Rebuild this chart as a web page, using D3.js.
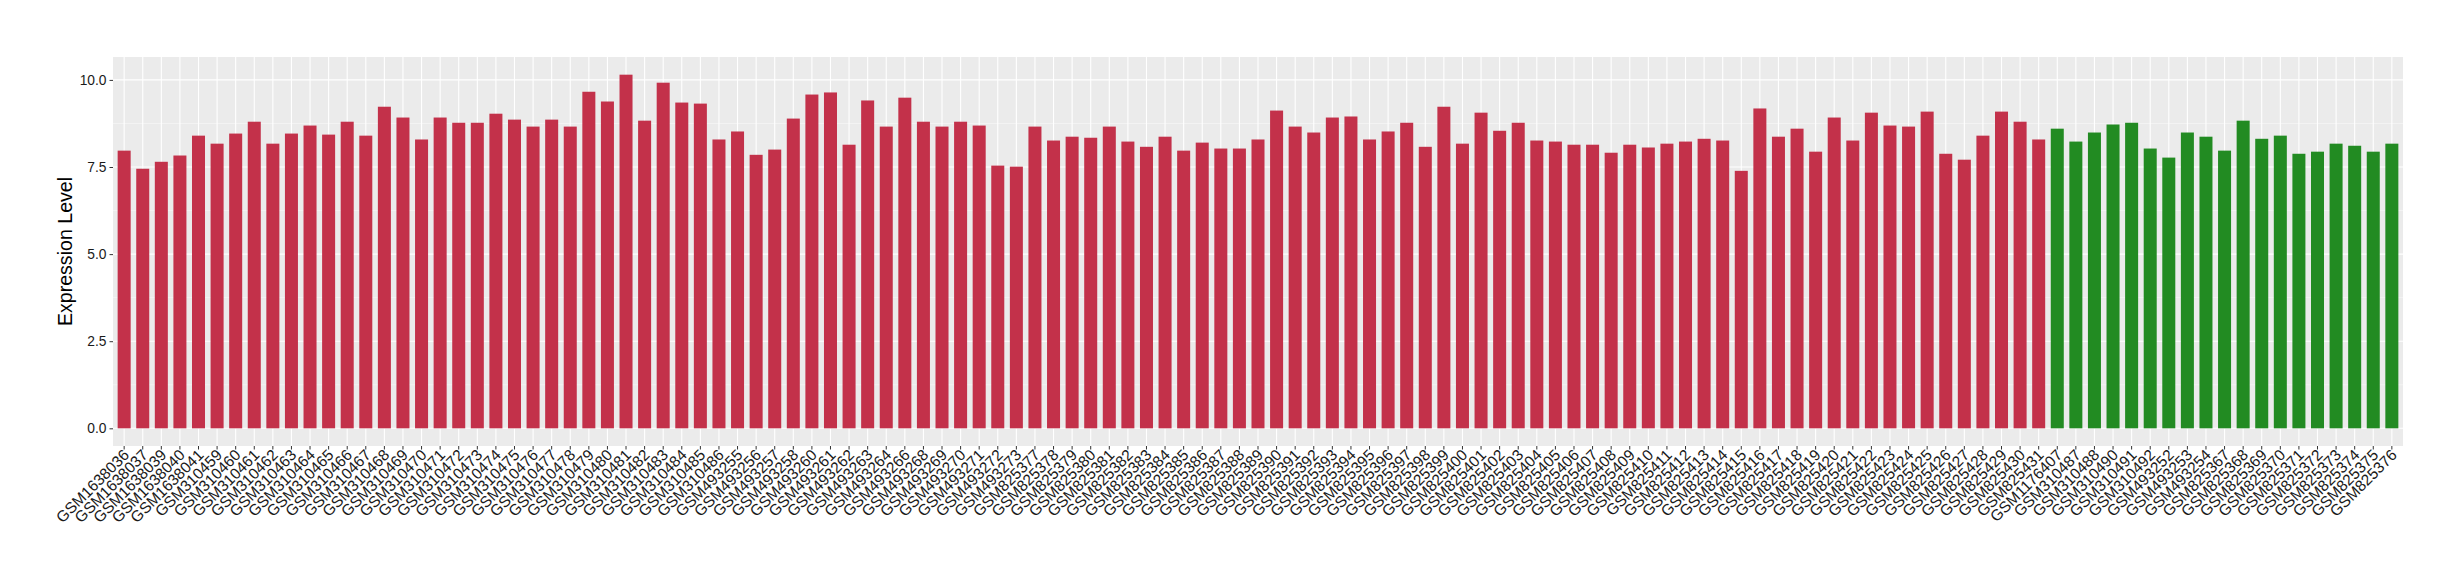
<!DOCTYPE html>
<meta charset="utf-8">
<style>
body { margin: 0; background: #fff; }
.axis text { font-family: "Liberation Sans", Arial, sans-serif; fill: #1a1a1a; }
.axis path { display: none; }
.axis line { stroke: #333; }
</style>
<body>
<script src="https://d3js.org/d3.v7.min.js"></script>
<script>

// group one samples (red bars)
var redSamples = [
  "GSM1638036","GSM1638037","GSM1638039","GSM1638040","GSM1638041",
  "GSM310459","GSM310460","GSM310461","GSM310462","GSM310463","GSM310464","GSM310465",
  "GSM310466","GSM310467","GSM310468","GSM310469","GSM310470","GSM310471","GSM310472",
  "GSM310473","GSM310474","GSM310475","GSM310476","GSM310477","GSM310478","GSM310479",
  "GSM310480","GSM310481","GSM310482","GSM310483","GSM310484","GSM310485","GSM310486",
  "GSM493255","GSM493256","GSM493257","GSM493258","GSM493260","GSM493261","GSM493262",
  "GSM493263","GSM493264","GSM493266","GSM493268","GSM493269","GSM493270","GSM493271",
  "GSM493272","GSM493273",
  "GSM825377","GSM825378","GSM825379","GSM825380","GSM825381","GSM825382","GSM825383",
  "GSM825384","GSM825385","GSM825386","GSM825387","GSM825388","GSM825389","GSM825390",
  "GSM825391","GSM825392","GSM825393","GSM825394","GSM825395","GSM825396","GSM825397",
  "GSM825398","GSM825399","GSM825400","GSM825401","GSM825402","GSM825403","GSM825404",
  "GSM825405","GSM825406","GSM825407","GSM825408","GSM825409","GSM825410","GSM825411",
  "GSM825412","GSM825413","GSM825414","GSM825415","GSM825416","GSM825417","GSM825418",
  "GSM825419","GSM825420","GSM825421","GSM825422","GSM825423","GSM825424","GSM825425",
  "GSM825426","GSM825427","GSM825428","GSM825429","GSM825430","GSM825431"
];
var redValues = [
  7.97, 7.45, 7.65, 7.83, 8.40,
  8.17, 8.46, 8.80, 8.17, 8.46, 8.69, 8.43,
  8.80, 8.40, 9.23, 8.92, 8.29, 8.92, 8.77,
  8.77, 9.03, 8.86, 8.66, 8.86, 8.66, 9.66,
  9.38, 10.15, 8.83, 9.92, 9.35, 9.32, 8.29,
  8.52, 7.85, 8.00, 8.89, 9.58, 9.64, 8.14,
  9.41, 8.66, 9.49, 8.80, 8.66, 8.80, 8.69,
  7.54, 7.51,
  8.66, 8.26, 8.37, 8.34, 8.66, 8.23, 8.08,
  8.37, 7.97, 8.20, 8.03, 8.03, 8.29, 9.12,
  8.66, 8.49, 8.92, 8.95, 8.29, 8.52, 8.77,
  8.08, 9.23, 8.17, 9.06, 8.54, 8.77, 8.26,
  8.23, 8.14, 8.14, 7.91, 8.14, 8.06, 8.17,
  8.23, 8.31, 8.26, 7.39, 9.18, 8.37, 8.60,
  7.94, 8.92, 8.26, 9.06, 8.69, 8.66, 9.09,
  7.88, 7.71, 8.40, 9.09, 8.80, 8.29
];

// group two samples (green bars)
var greenSamples = [
  "GSM1176407","GSM310487","GSM310488","GSM310490","GSM310491","GSM310492",
  "GSM493252","GSM493253","GSM493254",
  "GSM825367","GSM825368","GSM825369","GSM825370","GSM825371","GSM825372",
  "GSM825373","GSM825374","GSM825375","GSM825376"
];
var greenValues = [
  8.60, 8.23, 8.49, 8.72, 8.77, 8.03,
  7.77, 8.49, 8.37,
  7.97, 8.83, 8.31, 8.40, 7.88, 7.94,
  8.17, 8.11, 7.94, 8.17
];

var yTicks = [0, 2.5, 5, 7.5, 10];
var yMinor = [1.25, 3.75, 6.25, 8.75];

// build rows for d3
var data = redSamples.map(function(s, i) { return {sample: s, value: redValues[i], color: "#C3314A"}; })
  .concat(greenSamples.map(function(s, i) { return {sample: s, value: greenValues[i], color: "#228B22"}; }));

var margin = {top: 57, right: 57, bottom: 134, left: 113},
    width = 2460 - margin.left - margin.right,
    height = 580 - margin.top - margin.bottom;

var x = d3.scaleBand()
    .domain(data.map(function(d) { return d.sample; }))
    .range([0, width])
    .paddingInner(0.3)
    .paddingOuter(0.25);

var maxV = d3.max(data, function(d) { return d.value; });
var y = d3.scaleLinear()
    .domain([-0.05 * maxV, maxV * 1.05])
    .range([height, 0]);

var svg = d3.select("body").append("svg")
    .attr("width", 2460)
    .attr("height", 580)
  .append("g")
    .attr("transform", "translate(" + margin.left + "," + margin.top + ")");

// panel background
svg.append("rect")
    .attr("width", width)
    .attr("height", height)
    .attr("fill", "#EBEBEB");

// minor + major grid
svg.selectAll(".minor")
    .data(yMinor)
  .enter().append("line")
    .attr("x1", 0).attr("x2", width)
    .attr("y1", function(d) { return y(d); })
    .attr("y2", function(d) { return y(d); })
    .attr("stroke", "#fff").attr("stroke-width", 0.55).attr("opacity", 0.8);

svg.selectAll(".hmajor")
    .data(yTicks)
  .enter().append("line")
    .attr("x1", 0).attr("x2", width)
    .attr("y1", function(d) { return y(d); })
    .attr("y2", function(d) { return y(d); })
    .attr("stroke", "#fff").attr("stroke-width", 1.1);

svg.selectAll(".vmajor")
    .data(data)
  .enter().append("line")
    .attr("x1", function(d) { return x(d.sample) + x.bandwidth() / 2; })
    .attr("x2", function(d) { return x(d.sample) + x.bandwidth() / 2; })
    .attr("y1", 0).attr("y2", height)
    .attr("stroke", "#fff").attr("stroke-width", 1.1);

// bars
svg.selectAll(".bar")
    .data(data)
  .enter().append("rect")
    .attr("x", function(d) { return x(d.sample); })
    .attr("width", x.bandwidth())
    .attr("y", function(d) { return y(d.value); })
    .attr("height", function(d) { return y(0) - y(d.value); })
    .attr("fill", function(d) { return d.color; });

// x axis
var xAxis = svg.append("g")
    .attr("class", "axis")
    .attr("transform", "translate(0," + height + ")")
    .call(d3.axisBottom(x).tickSize(3.5).tickSizeOuter(0));

xAxis.selectAll("text")
    .style("font-size", "15.5px")
    .attr("text-anchor", "end")
    .attr("dy", null)
    .attr("y", null)
    .attr("transform", "translate(6,10) rotate(-45)");

// y axis
svg.append("g")
    .attr("class", "axis")
    .call(d3.axisLeft(y).tickValues(yTicks).tickSize(3.5).tickPadding(3)
      .tickFormat(d3.format(".1f")))
  .selectAll("text")
    .style("font-size", "13.8px");

// y title
svg.append("text")
    .attr("transform", "rotate(-90)")
    .attr("x", -height / 2)
    .attr("y", 72 - margin.left)
    .attr("text-anchor", "middle")
    .style("font-family", "Liberation Sans, Arial, sans-serif")
    .style("font-size", "19.6px")
    .style("fill", "#000")
    .text("Expression Level");

</script>
</body>
